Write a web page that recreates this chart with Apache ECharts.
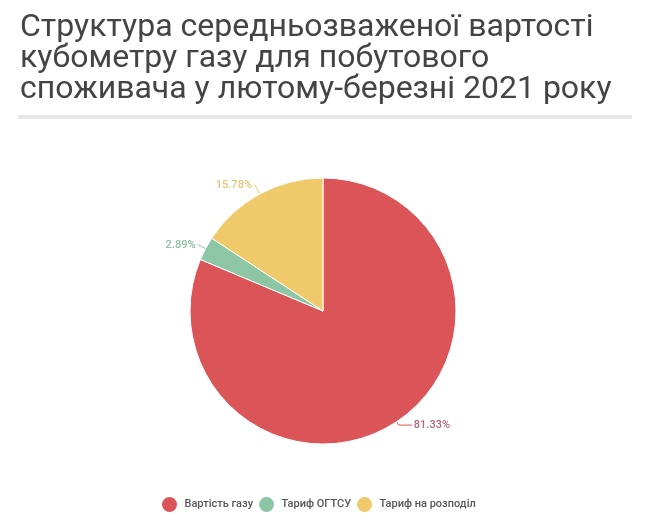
<!DOCTYPE html>
<html>
<head>
<meta charset="utf-8">
<script src="https://cdn.jsdelivr.net/npm/echarts@6/dist/echarts.min.js"></script>
<style>
html, body { margin: 0; padding: 0; background: #fff; }
#container { width: 650px; height: 522px; }
</style>
</head>
<body>
<div id="container"></div>
<script>
var categories = ['Вартість газу', 'Тариф ОГТСУ', 'Тариф на розподіл'];
var shares = [81.33, 2.89, 15.78];
var colors = ['#db5457', '#8cc6a4', '#efc96a'];
var labelColors = ['#b5657a', '#8fc1a4', '#e3c67c'];
// label line lengths per slice [radial, horizontal]
var lineLens = [[4, 13], [8, 1], [10, 1]];

var dom = document.getElementById("container");
var myChart = echarts.init(dom);

var pieData = categories.map(function (name, i) {
    return {
        name: name,
        value: shares[i],
        label: { color: labelColors[i] },
        labelLine: { length: lineLens[i][0], length2: lineLens[i][1] }
    };
});

option = {
    color: colors,
    title: {
        text: 'Структура середньозваженої вартості\nкубометру газу для побутового\nспоживача у лютому-березні 2021 року',
        left: 15,
        top: 7,
        textStyle: {
            fontFamily: 'Roboto',
            fontWeight: 'normal',
            fontSize: 32,
            lineHeight: 31,
            color: '#444'
        }
    },
    graphic: [{
        type: 'rect',
        shape: { x: 18, y: 115, width: 614, height: 4 },
        style: { fill: '#e8e8e8' }
    }],
    legend: {
        data: categories,
        bottom: 3,
        left: 155,
        icon: 'circle',
        itemWidth: 20,
        itemHeight: 17,
        itemGap: 4,
        textStyle: {
            fontFamily: 'Roboto',
            fontSize: 11,
            fontWeight: 500,
            color: '#555'
        }
    },
    series: [
        {
            type: 'pie',
            center: [323, 311],
            radius: 133,
            startAngle: 90,
            data: pieData,
            itemStyle: {
                borderColor: '#fff',
                borderWidth: 1
            },
            label: {
                show: true,
                formatter: function (p) { return p.value.toFixed(2) + '%'; },
                fontFamily: 'Roboto',
                fontSize: 11,
                fontWeight: 500,
                distanceToLabelLine: 2
            }
        }
    ]
};

if (option && typeof option === "object") {
    myChart.setOption(option, true);
}
</script>
</body>
</html>
